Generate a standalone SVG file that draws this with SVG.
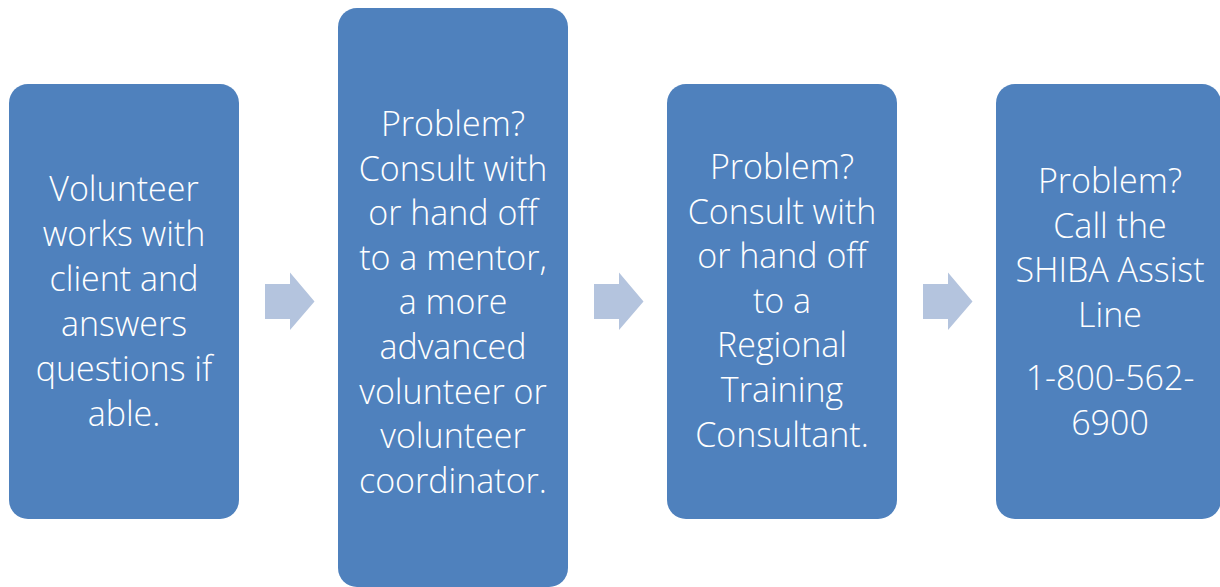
<svg xmlns="http://www.w3.org/2000/svg" width="1220" height="587" viewBox="0 0 1220 587">
<style>
.box{fill:#4F81BD;}
.arr{fill:#B4C4DE;}
.t{font-family:"Open Sans","Noto Sans","DejaVu Sans",sans-serif;font-size:34px;font-weight:350;fill:#FFFFFF;text-anchor:middle;}
</style>
<rect width="1220" height="587" fill="#FFFFFF"/>
<g id="connectors">
<path class="arr" d="M265,284 H290 V272.5 L314.5,301.5 L290,330 V319 H265 Z"/>
<path class="arr" d="M594,284 H619 V272.5 L643.5,301.5 L619,330 V319 H594 Z"/>
<path class="arr" d="M923,284 H948 V272.5 L972.5,301.5 L948,330 V319 H923 Z"/>
</g>
<g id="node1">
<rect class="box" x="9" y="84" width="230" height="435" rx="19"/>
<text class="t"><tspan x="124" y="201">Volunteer</tspan><tspan x="124" y="246">works with</tspan><tspan x="124" y="291">client and</tspan><tspan x="124" y="336">answers</tspan><tspan x="124" y="381">questions if</tspan><tspan x="124" y="426">able.</tspan></text>
</g>
<g id="node2">
<rect class="box" x="338" y="8" width="230" height="579" rx="19"/>
<text class="t"><tspan x="453" y="136">Problem?</tspan><tspan x="453" y="180.6">Consult with</tspan><tspan x="453" y="225.2">or hand off</tspan><tspan x="453" y="269.8">to a mentor,</tspan><tspan x="453" y="314.4">a more</tspan><tspan x="453" y="359">advanced</tspan><tspan x="453" y="403.6">volunteer or</tspan><tspan x="453" y="448.2">volunteer</tspan><tspan x="453" y="492.8">coordinator.</tspan></text>
</g>
<g id="node3">
<rect class="box" x="667" y="84" width="230" height="435" rx="19"/>
<text class="t"><tspan x="782" y="179">Problem?</tspan><tspan x="782" y="223.6">Consult with</tspan><tspan x="782" y="268.2">or hand off</tspan><tspan x="782" y="312.8">to a</tspan><tspan x="782" y="357.4">Regional</tspan><tspan x="782" y="402">Training</tspan><tspan x="782" y="446.6">Consultant.</tspan></text>
</g>
<g id="node4">
<rect class="box" x="996" y="84" width="225" height="435" rx="19"/>
<text class="t"><tspan x="1110" y="193">Problem?</tspan><tspan x="1110" y="237.6">Call the</tspan><tspan x="1110" y="282.2">SHIBA Assist</tspan><tspan x="1110" y="326.8">Line</tspan><tspan x="1110" y="390">1-800-562-</tspan><tspan x="1110" y="434.6">6900</tspan></text>
</g>
</svg>
